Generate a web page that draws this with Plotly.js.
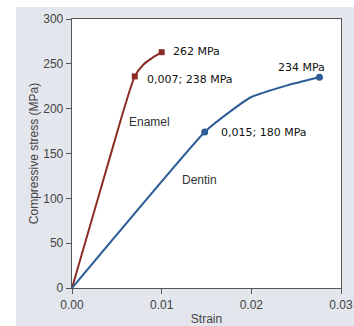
<!DOCTYPE html>
<html>
<head>
<meta charset="utf-8">
<script src="https://cdn.plot.ly/plotly-3.0.1.min.js"></script>
<style>
  html, body { margin: 0; padding: 0; background: #ffffff; }
  #chart { position: absolute; left: 16px; top: 7px; width: 338px; height: 319px; }
</style>
</head>
<body>
<div id="chart"></div>
<script>
// Curve samples
const enamelStrain = [0, 0.004, 0.007, 0.0080, 0.0090, 0.0100];
const enamelStress = [0, 138, 236, 249.5, 257, 263];
const dentinStrain = [0, 0.0148, 0.0174, 0.0200, 0.0240, 0.0276];
const dentinStress = [0, 174, 195, 213, 226, 235];

// Marked points
const enamelMarkStrain = [0.007, 0.010];
const enamelMarkStress = [236, 263];
const dentinMarkStrain = [0.0148, 0.0276];
const dentinMarkStress = [174, 235];

// Labels
const pointLabels = ["0,007; 238 MPa", "262 MPa", "0,015; 180 MPa", "234 MPa"];
const seriesNames = ["Enamel", "Dentin"];
const xTicks = [0, 0.01, 0.02, 0.03];
const xTickText = ["0.00", "0.01", "0.02", "0.03"];
const yTicks = [0, 50, 100, 150, 200, 250, 300];

const enamelColor = "#8a2b24";
const dentinColor = "#2d5d96";

const traces = [
  { x: enamelStrain, y: enamelStress, mode: "lines", line: { color: enamelColor, width: 2, shape: "spline", smoothing: 0.6 }, hoverinfo: "skip" },
  { x: dentinStrain, y: dentinStress, mode: "lines", line: { color: dentinColor, width: 2, shape: "spline", smoothing: 0.4 }, hoverinfo: "skip" },
  { x: enamelMarkStrain, y: enamelMarkStress, mode: "markers", marker: { color: enamelColor, size: 6, symbol: "square" } },
  { x: dentinMarkStrain, y: dentinMarkStress, mode: "markers", marker: { color: dentinColor, size: 7, symbol: "circle" } }
];

const labelFont = { family: "DejaVu Sans", size: 11, color: "#111" };
const nameFont = { family: "Liberation Sans, Arial", size: 12, color: "#333" };

const annotations = [
  { x: enamelMarkStrain[0], y: enamelMarkStress[0], text: pointLabels[0], xanchor: "left", yanchor: "middle", xshift: 10, yshift: -3, showarrow: false, font: labelFont },
  { x: enamelMarkStrain[1], y: enamelMarkStress[1], text: pointLabels[1], xanchor: "left", yanchor: "middle", xshift: 9, yshift: 1, showarrow: false, font: labelFont },
  { x: dentinMarkStrain[0], y: dentinMarkStress[0], text: pointLabels[2], xanchor: "left", yanchor: "middle", xshift: 14, yshift: -1, showarrow: false, font: labelFont },
  { x: dentinMarkStrain[1], y: dentinMarkStress[1], text: pointLabels[3], xanchor: "center", yanchor: "bottom", xshift: -18, yshift: 1, showarrow: false, font: labelFont },
  { x: 0.0086, y: 185, text: seriesNames[0], showarrow: false, font: nameFont },
  { x: 0.0142, y: 121, text: seriesNames[1], showarrow: false, font: nameFont }
];

const axisCommon = {
  showgrid: false, zeroline: false, showline: true, mirror: true,
  linecolor: "#555", linewidth: 1.3,
  ticks: "outside", ticklen: 5, tickcolor: "#555", tickwidth: 1,
  tickfont: { family: "Liberation Sans, Arial", size: 12, color: "#444" }
};

const layout = {
  width: 338, height: 319,
  margin: { l: 56, r: 13, t: 12, b: 38 },
  paper_bgcolor: "#e3e6ec",
  plot_bgcolor: "#ffffff",
  showlegend: false,
  xaxis: Object.assign({}, axisCommon, {
    range: [0, 0.03], tickvals: xTicks, ticktext: xTickText,
    title: { text: "Strain", font: { family: "Liberation Sans, Arial", size: 12, color: "#444" }, standoff: 4 }
  }),
  yaxis: Object.assign({}, axisCommon, {
    range: [0, 300], tickvals: yTicks,
    title: { text: "Compressive stress (MPa)", font: { family: "Liberation Sans, Arial", size: 12, color: "#444" }, standoff: 2 }
  }),
  annotations: annotations
};

Plotly.newPlot("chart", traces, layout, { staticPlot: true, displayModeBar: false });
</script>
</body>
</html>
